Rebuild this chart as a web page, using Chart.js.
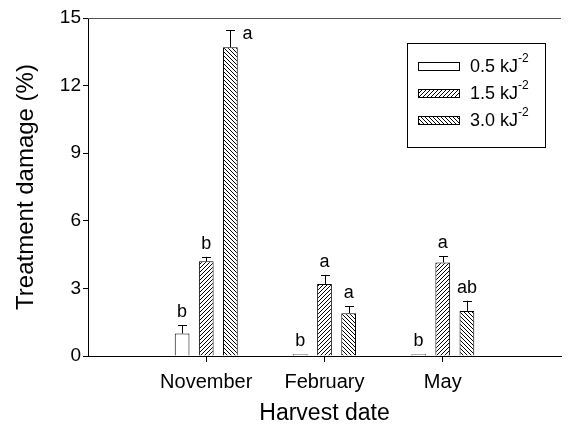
<!DOCTYPE html>
<html>
<head>
<meta charset="utf-8">
<script src="https://cdn.jsdelivr.net/npm/chart.js@4/dist/chart.umd.min.js"></script>
<style>
  html, body { margin: 0; padding: 0; background: #fff; }
  #wrap { width: 569px; height: 428px; }
</style>
</head>
<body>
<div id="wrap"><canvas id="damageChart" width="569" height="428"></canvas></div>
<script>
// data
const harvestDates = ["November", "February", "May"];
const doseLabels = ["0.5 kJ", "1.5 kJ", "3.0 kJ"];
const dose05 = [1.0, 0.08, 0.08];
const dose15 = [4.2, 3.2, 4.15];
const dose30 = [13.7, 1.9, 2.0];
const err05 = [0.37, 0, 0];
const err15 = [0.2, 0.4, 0.28];
const err30 = [0.75, 0.3, 0.45];
const letters05 = ["b", "b", "b"];
const letters15 = ["b", "a", "a"];
const letters30 = ["a", "a", "ab"];
const yTicks = [0, 3, 6, 9, 12, 15];

const FONT = "'Liberation Sans', Arial, sans-serif";

function hatch(back) {
    const c = document.createElement("canvas");
    c.width = 4; c.height = 4;
    const g = c.getContext("2d");
    g.fillStyle = "#fff";
    g.fillRect(0, 0, 4, 4);
    g.strokeStyle = "#000";
    g.lineWidth = 1;
    g.beginPath();
    if (back) {
        g.moveTo(-1, -1); g.lineTo(5, 5);
        g.moveTo(-1, 3); g.lineTo(1, 5);
        g.moveTo(3, -1); g.lineTo(5, 1);
    } else {
        g.moveTo(-1, 5); g.lineTo(5, -1);
        g.moveTo(-1, 1); g.lineTo(1, -1);
        g.moveTo(3, 5); g.lineTo(5, 3);
    }
    g.stroke();
    return g.createPattern(c, "repeat");
}

const fills = ["#fff", hatch(false), hatch(true)];
const pad = (arr) => [null, ...arr, null];
const labels = ["", ...harvestDates, ""];

const series = [
    { label: doseLabels[0], data: dose05, err: err05, letters: letters05 },
    { label: doseLabels[1], data: dose15, err: err15, letters: letters15 },
    { label: doseLabels[2], data: dose30, err: err30, letters: letters30 },
];

// error bars, significance letters, top frame line and legend
const extras = {
    id: "extras",
    afterDatasetsDraw(chart) {
        const ctx = chart.ctx;
        const y = chart.scales.y;
        const area = chart.chartArea;
        ctx.save();
        ctx.strokeStyle = "#000";
        ctx.lineWidth = 1;
        ctx.fillStyle = "#000";
        ctx.font = "18px " + FONT;
        ctx.textAlign = "center";
        ctx.textBaseline = "alphabetic";
        series.forEach((s, i) => {
            const meta = chart.getDatasetMeta(i);
            s.data.forEach((v, j) => {
                const bar = meta.data[j + 1];
                const top = y.getPixelForValue(v + s.err[j]);
                if (s.err[j] > 0) {
                    ctx.beginPath();
                    ctx.moveTo(Math.round(bar.x) + 0.5, bar.y);
                    ctx.lineTo(Math.round(bar.x) + 0.5, top);
                    ctx.moveTo(Math.round(bar.x) - 4, Math.round(top) + 0.5);
                    ctx.lineTo(Math.round(bar.x) + 5, Math.round(top) + 0.5);
                    ctx.stroke();
                }
                if (top - 25 < area.top) {
                    ctx.textAlign = "left";
                    ctx.fillText(s.letters[j], bar.x + 12, top + 9);
                    ctx.textAlign = "center";
                } else {
                    ctx.fillText(s.letters[j], bar.x, top - 8);
                }
            });
        });

        // top frame line
        ctx.strokeStyle = "#555";
        ctx.beginPath();
        ctx.moveTo(area.left, area.top + 0.5);
        ctx.lineTo(area.right, area.top + 0.5);
        ctx.stroke();

        // legend box
        const lx = 407, ly = 43, lw = 138, lh = 104;
        ctx.strokeStyle = "#000";
        ctx.strokeRect(lx + 0.5, ly + 0.5, lw, lh);
        series.forEach((s, i) => {
            const ry = 66 + i * 27;
            ctx.fillStyle = fills[i];
            ctx.fillRect(418, ry - 4, 41, 8);
            ctx.strokeRect(418.5, ry - 3.5, 41, 8);
            ctx.fillStyle = "#000";
            ctx.textAlign = "left";
            ctx.textBaseline = "middle";
            ctx.font = "18px " + FONT;
            ctx.fillText(s.label, 470, ry + 1);
            const w = ctx.measureText(s.label).width;
            ctx.font = "12px " + FONT;
            ctx.fillText("-2", 470 + w, ry - 7);
        });
        ctx.restore();
    }
};

new Chart(document.getElementById("damageChart").getContext("2d"), {
    type: "bar",
    data: {
        labels: labels,
        datasets: series.map((s, i) => ({
            label: s.label,
            data: pad(s.data),
            backgroundColor: fills[i],
            borderColor: "#000",
            borderWidth: 1,
            categoryPercentage: 0.6125,
            barPercentage: 0.61,
        })),
    },
    options: {
        responsive: false,
        animation: false,
        layout: { padding: { top: 18, right: 1, left: 0, bottom: 0 } },
        plugins: {
            legend: { display: false },
            tooltip: { enabled: false },
        },
        scales: {
            x: {
                offset: false,
                grid: {
                    offset: false,
                    drawOnChartArea: false,
                    tickLength: 6,
                    color: (c) => (labels[c.index] ? "#000" : "rgba(0,0,0,0)"),
                },
                border: { color: "#000", width: 1 },
                ticks: {
                    color: "#000",
                    font: { family: FONT, size: 20 },
                    padding: 8,
                    maxRotation: 0,
                    autoSkip: false,
                },
                title: {
                    display: true,
                    text: "Harvest date",
                    color: "#000",
                    font: { family: FONT, size: 23 },
                    padding: { top: 0, bottom: 1 },
                },
                afterFit: (scale) => { scale.height = 72; },
            },
            y: {
                min: 0,
                max: 15,
                afterBuildTicks: (scale) => { scale.ticks = yTicks.map((v) => ({ value: v })); },
                grid: {
                    drawOnChartArea: false,
                    tickLength: 5,
                    color: "#000",
                },
                border: { color: "#000", width: 1 },
                ticks: {
                    color: "#000",
                    font: { family: FONT, size: 19 },
                    padding: 2,
                },
                title: {
                    display: true,
                    text: "Treatment damage (%)",
                    color: "#000",
                    font: { family: FONT, size: 24 },
                    padding: { top: 12, bottom: 0 },
                },
                afterFit: (scale) => { scale.width = 88; },
            },
        },
    },
    plugins: [extras],
});
</script>
</body>
</html>
